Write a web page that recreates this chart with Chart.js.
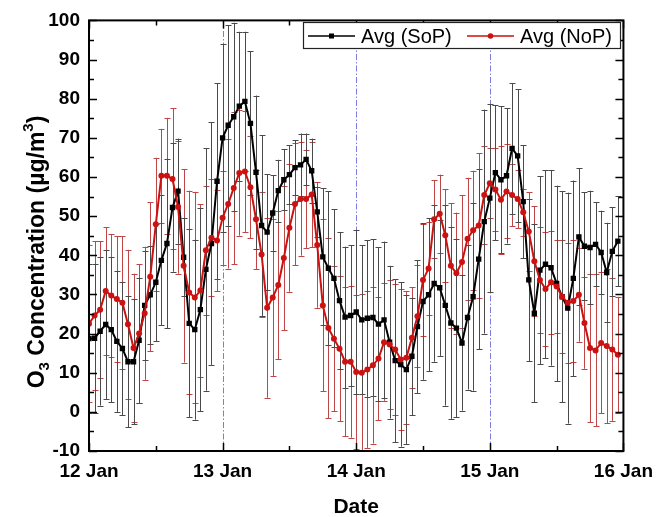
<!DOCTYPE html>
<html>
<head>
<meta charset="utf-8">
<script src="https://cdn.jsdelivr.net/npm/chart.js@4/dist/chart.umd.min.js"></script>
<style>
  html, body { margin: 0; padding: 0; background: #fff; }
  canvas { display: block; }
</style>
</head>
<body>
<canvas id="o3Chart" width="662" height="517"></canvas>
<script>
// hourly samples, 12 Jan 00:00 -> 15 Jan 23:00
const dayLabels = ["12 Jan", "13 Jan", "14 Jan", "15 Jan", "16 Jan"];
const hours = Array.from({ length: 96 }, (_, i) => i);

const sopAvg = [
  18.7, 18.8, 20.6, 22.3, 21.0, 18.0, 16.2, 12.8, 12.8, 18.3,
  27.2, 29.9, 33.1, 38.7, 43.0, 52.2, 56.4, 39.5, 22.6, 21.0,
  26.1, 36.4, 43.0, 58.9, 70.0, 73.2, 75.4, 78.1, 79.3, 73.7,
  61.2, 47.6, 45.9, 50.8, 56.5, 59.3, 60.6, 62.4, 63.1, 64.5,
  61.6, 51.1, 39.6, 36.7, 34.1, 28.4, 24.2, 24.6, 25.5, 23.5,
  23.9, 24.1, 22.4, 23.5, 17.8, 13.1, 12.1, 10.8, 14.2, 21.8,
  28.2, 29.9, 32.8, 31.7, 27.2, 22.7, 21.4, 17.6, 24.1, 29.4,
  39.0, 48.6, 54.6, 61.1, 59.3, 60.3, 67.3, 65.4, 53.7, 33.7,
  25.2, 36.2, 37.7, 36.8, 32.8, 29.4, 26.5, 34.1, 44.7, 42.3,
  42.0, 42.8, 40.7, 35.6, 41.0, 43.6
];
const sopErr = [
  19, 19, 19, 19, 18.5, 18, 17, 16.7, 16, 16,
  14, 12.5, 15, 16.6, 21.7, 16.4, 13.4, 10, 24, 23,
  26, 31, 31, 25, 24, 25.6, 24, 19, 17.8, 18.4,
  19.6, 23, 14.8, 9.6, 7.9, 7.8, 7.5, 7, 8, 6.6,
  8.2, 6.4, 17.5, 19.6, 17.6, 17.5, 18, 18, 21, 19,
  20, 20, 19.7, 20, 19.5, 20.8, 21, 19, 15, 17,
  20, 19.5, 20, 17.4, 25.6, 24.5, 22.8, 17.3, 18.4, 24,
  23, 28.6, 24, 17.3, 18.8, 17.3, 16.7, 17, 14.4, 20.7,
  22.8, 24, 24, 25, 25, 27, 29.5, 25, 17.5, 13.8,
  14.5, 10.7, 10.7, 12.7, 11.3, 11.5
];

const nopAvg = [
  22.5, 24.6, 26.1, 30.9, 29.7, 28.8, 27.9, 22.4, 16.3, 20.0,
  25.2, 34.5, 47.9, 60.3, 60.3, 59.5, 52.3, 37.3, 30.5, 29.2,
  31.0, 41.3, 44.5, 43.8, 49.6, 53.1, 57.2, 61.0, 61.4, 57.4,
  49.2, 40.2, 26.6, 29.2, 32.4, 39.3, 47.0, 53.1, 54.4, 54.4,
  55.5, 42.6, 27.2, 21.4, 18.7, 16.1, 12.8, 12.8, 10.2, 10.0,
  10.8, 11.9, 13.6, 17.8, 17.2, 15.9, 13.4, 13.8, 18.9, 24.4,
  33.7, 36.6, 49.2, 50.6, 45.1, 37.3, 35.4, 38.3, 44.2, 46.4,
  47.6, 55.4, 58.4, 56.8, 54.2, 56.3, 55.4, 54.4, 51.0, 46.1,
  38.5, 33.7, 31.4, 33.1, 32.0, 29.4, 27.9, 28.3, 29.9, 22.7,
  16.3, 15.7, 17.6, 16.8, 15.9, 14.6
];
const nopErr = [
  20, 19, 17.5, 16.3, 15.7, 16, 17, 19, 19, 17.7,
  17, 19, 17, 12, 14.8, 18, 17, 24.7, 26, 27,
  22, 16.5, 15, 13, 12, 16.5, 19.5, 16, 15.4, 13,
  12.7, 16, 23, 20, 19, 18.4, 16.3, 15.6, 14.5, 12.5,
  13.4, 16, 22, 23, 18.6, 18.5, 19, 19.4, 19.6, 20,
  20, 20, 15.8, 15, 16.5, 16.7, 18, 17, 12.9, 13,
  14.4, 11.8, 10, 10, 11.8, 16, 15.5, 17, 15.6, 15.2,
  18.4, 12.4, 9, 10.5, 13.8, 12, 8, 7.5, 6, 10,
  14, 13.5, 14.5, 13.2, 11.8, 14.4, 15.3, 15.5, 12, 11.7,
  18.9, 19.4, 18, 19.7, 18.2, 14.8
];

const FONT = "'Liberation Sans', Arial, sans-serif";
const BLACK = "#000000";
const RED = "#cc1111";

/* ------------------------------
   ERROR BARS (behind the lines)
------------------------------- */
const errorBars = {
    id: "errorBars",
    beforeDatasetsDraw(chart) {
        const ctx = chart.ctx;
        const y = chart.scales.y;
        const a = chart.chartArea;
        ctx.save();
        ctx.beginPath();
        ctx.rect(a.left, a.top, a.right - a.left, a.bottom - a.top);
        ctx.clip();
        [1, 0].forEach(di => {
            const ds = chart.data.datasets[di];
            const meta = chart.getDatasetMeta(di);
            ctx.strokeStyle = ds.errColor;
            ctx.lineWidth = 1;
            meta.data.forEach((pt, i) => {
                const v = ds.data[i].y, e = ds.errors[i];
                const yt = y.getPixelForValue(v + e);
                const yb = y.getPixelForValue(v - e);
                const x = Math.round(pt.x) + 0.5;
                ctx.beginPath();
                ctx.moveTo(x, yt); ctx.lineTo(x, yb);
                ctx.moveTo(x - 3, Math.round(yt) + 0.5); ctx.lineTo(x + 3, Math.round(yt) + 0.5);
                ctx.moveTo(x - 3, Math.round(yb) + 0.5); ctx.lineTo(x + 3, Math.round(yb) + 0.5);
                ctx.stroke();
            });
        });
        ctx.restore();
    }
};

/* ------------------------------
   DAY MARKERS (dash-dot)
------------------------------- */
const dayLines = {
    id: "dayLines",
    beforeDatasetsDraw(chart) {
        const ctx = chart.ctx;
        const x = chart.scales.x;
        const a = chart.chartArea;
        ctx.save();
        ctx.strokeStyle = "#7b7be0";
        ctx.lineWidth = 1;
        ctx.setLineDash([6, 2, 1.5, 2]);
        for (let d = 1; d < dayLabels.length - 1; d++) {
            const px = Math.round(x.getPixelForValue(d * 24)) + 0.5;
            ctx.beginPath();
            ctx.moveTo(px, a.bottom);
            ctx.lineTo(px, a.top);
            ctx.stroke();
        }
        ctx.restore();
    }
};

/* ------------------------------
   FRAME, TICKS, TITLES, LEGEND
------------------------------- */
const decor = {
    id: "decor",
    afterDraw(chart) {
        const ctx = chart.ctx;
        const a = chart.chartArea;
        const xs = chart.scales.x, ys = chart.scales.y;
        ctx.save();

        // inward ticks on all four sides
        ctx.strokeStyle = BLACK;
        ctx.lineWidth = 1.5;
        ctx.beginPath();
        xs.ticks.forEach(t => {
            const px = Math.round(xs.getPixelForValue(t.value)) + 0.5;
            const len = t.value % 24 === 0 ? 8 : 5;
            ctx.moveTo(px, a.bottom); ctx.lineTo(px, a.bottom - len);
            ctx.moveTo(px, a.top); ctx.lineTo(px, a.top + len);
        });
        ys.ticks.forEach(t => {
            [t.value, t.value + 5].forEach((v, k) => {
                if (v > ys.max) return;
                const py = Math.round(ys.getPixelForValue(v)) + 0.5;
                const len = k === 0 ? 8 : 5;
                ctx.moveTo(a.left, py); ctx.lineTo(a.left + len, py);
                ctx.moveTo(a.right, py); ctx.lineTo(a.right - len, py);
            });
        });
        ctx.stroke();

        // frame
        ctx.lineWidth = 2;
        ctx.strokeRect(a.left, a.top, a.right - a.left, a.bottom - a.top);

        // x title
        ctx.fillStyle = BLACK;
        ctx.font = "bold 21px " + FONT;
        ctx.textAlign = "center";
        ctx.textBaseline = "middle";
        ctx.fillText("Date", (a.left + a.right) / 2, 507);

        // y title with sub/superscript
        const parts = [
            { t: "O", f: "bold 23px ", dy: 0 },
            { t: "3", f: "bold 15px ", dy: 5 },
            { t: " Concentration (\u00b5g/m", f: "bold 23px ", dy: 0 },
            { t: "3", f: "bold 15px ", dy: -11 },
            { t: ")", f: "bold 23px ", dy: 0 }
        ];
        let total = 0;
        parts.forEach(p => { ctx.font = p.f + FONT; p.w = ctx.measureText(p.t).width; total += p.w; });
        ctx.translate(35.5, 252);
        ctx.rotate(-Math.PI / 2);
        ctx.textAlign = "left";
        ctx.textBaseline = "alphabetic";
        let cx = -total / 2;
        parts.forEach(p => {
            ctx.font = p.f + FONT;
            ctx.fillText(p.t, cx, 8 + p.dy);
            cx += p.w;
        });
        ctx.setTransform(1, 0, 0, 1, 0, 0);

        // legend box
        ctx.fillStyle = "#ffffff";
        ctx.fillRect(303.5, 22.5, 317, 26);
        ctx.strokeStyle = "#222";
        ctx.lineWidth = 1.2;
        ctx.strokeRect(303.5, 22.5, 317, 26);
        const ly = 36;
        chart.data.datasets.forEach((ds, i) => {
            const x0 = i === 0 ? 308 : 467;
            ctx.strokeStyle = ds.borderColor;
            ctx.lineWidth = 1.5;
            ctx.beginPath();
            ctx.moveTo(x0, ly); ctx.lineTo(x0 + 47, ly);
            ctx.stroke();
            ctx.fillStyle = ds.borderColor;
            if (ds.pointStyle === "rect") {
                ctx.fillRect(x0 + 21, ly - 2.5, 5, 5);
            } else {
                ctx.beginPath();
                ctx.arc(x0 + 23.5, ly, 2.8, 0, Math.PI * 2);
                ctx.fill();
            }
            ctx.fillStyle = BLACK;
            ctx.font = "20px " + FONT;
            ctx.textBaseline = "middle";
            ctx.fillText(ds.label, x0 + 53, ly + 1);
        });
        ctx.restore();
    }
};

new Chart(document.getElementById("o3Chart"), {
    type: "line",
    data: {
        datasets: [{
            label: "Avg (SoP)",
            data: hours.map((h, i) => ({ x: h, y: sopAvg[i] })),
            errors: sopErr,
            errColor: "#4a4a4a",
            borderColor: BLACK,
            backgroundColor: BLACK,
            borderWidth: 2,
            pointStyle: "rect",
            pointRadius: 3.8,
            pointBorderWidth: 0,
            tension: 0,
            order: 1
        }, {
            label: "Avg (NoP)",
            data: hours.map((h, i) => ({ x: h, y: nopAvg[i] })),
            errors: nopErr,
            errColor: "#c04646",
            borderColor: RED,
            backgroundColor: RED,
            borderWidth: 2,
            pointStyle: "circle",
            pointRadius: 3,
            pointBorderWidth: 0,
            tension: 0,
            order: 0
        }]
    },
    options: {
        responsive: false,
        animation: false,
        layout: { padding: { left: 0, right: 33, top: 17, bottom: 0 } },
        plugins: { legend: { display: false }, tooltip: { enabled: false } },
        scales: {
            x: {
                type: "linear",
                min: 0,
                max: 96,
                grid: { display: false, drawTicks: false },
                border: { display: false },
                ticks: {
                    stepSize: 12,
                    autoSkip: false,
                    maxRotation: 0,
                    padding: 9,
                    color: BLACK,
                    font: { family: FONT, size: 19, weight: "bold" },
                    callback: v => (v % 24 === 0 ? dayLabels[v / 24] : "")
                },
                afterFit: s => { s.height = 66; }
            },
            y: {
                min: -10,
                max: 100,
                grid: { display: false, drawTicks: false },
                border: { display: false },
                ticks: {
                    stepSize: 10,
                    padding: 9,
                    color: BLACK,
                    font: { family: FONT, size: 19, weight: "bold" }
                },
                afterFit: s => { s.width = 89; }
            }
        }
    },
    plugins: [dayLines, errorBars, decor]
});
</script>
</body>
</html>
